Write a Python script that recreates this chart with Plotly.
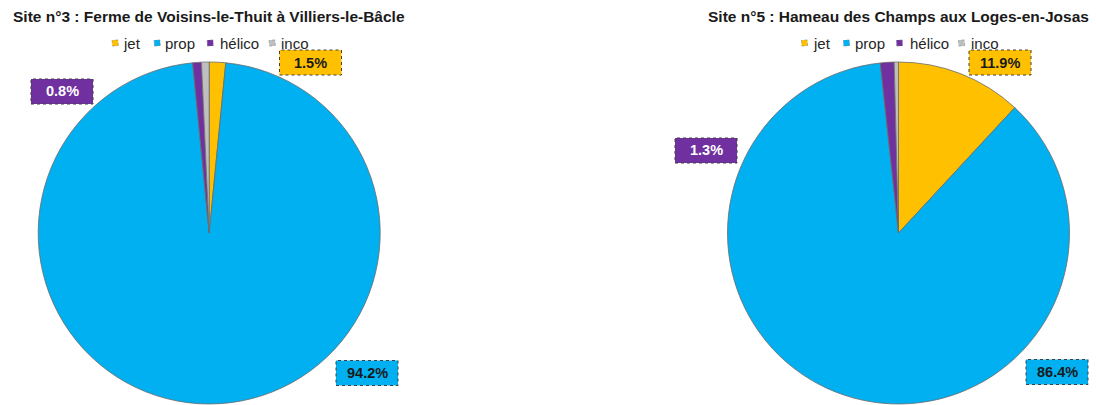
import plotly.graph_objects as go

# Aircraft categories and their colours
categories = ["jet", "prop", "hélico", "inco"]
colors = ["#FFC000", "#00B0F0", "#7030A0", "#BFBFBF"]

# Share of overflights per category (%)
site3_title = "Site n°3 : Ferme de Voisins-le-Thuit à Villiers-le-Bâcle"
site3_values = [1.5, 94.2, 0.8, 0.7]
site5_title = "Site n°5 : Hameau des Champs aux Loges-en-Josas"
site5_values = [11.9, 86.4, 1.3, 0.4]

W, H = 1096, 405
FONT = "Liberation Sans, Arial, sans-serif"


def px(x):
    return x / W


def py(y):
    return 1 - y / H


# Pie geometry in pixels: centre x, centre y, radius
pies = [
    dict(title=site3_title, values=site3_values, cx=209.2, cy=233, r=171,
         # label box centres (px) for jet, prop, hélico
         boxes={0: (310.5, 62.5), 1: (367, 373), 2: (62, 91.5)}),
    dict(title=site5_title, values=site5_values, cx=898.5, cy=233, r=171,
         boxes={0: (1000, 62.5), 1: (1057, 372), 2: (706, 150.5)}),
]

# Legend item offsets from the pie centre (marker left, text left)
legend_offsets = [(-97, -88), (-55, -46), (-2, 9), (60, 70)]

fig = go.Figure()
shapes, annotations = [], []

for p in pies:
    cx, cy, r = p["cx"], p["cy"], p["r"]
    fig.add_trace(go.Pie(
        labels=categories,
        values=p["values"],
        marker=dict(colors=colors, line=dict(color="#6b6b6b", width=0.8)),
        sort=False,
        direction="clockwise",
        rotation=0,
        textinfo="none",
        hoverinfo="label+value",
        showlegend=False,
        domain=dict(x=[px(cx - r), px(cx + r)], y=[py(cy + r), py(cy - r)]),
    ))

    # Title
    annotations.append(dict(
        x=px(cx), y=py(16), xref="paper", yref="paper",
        text=f"<b>{p['title']}</b>", showarrow=False,
        xanchor="center", yanchor="middle",
        font=dict(family=FONT, size=15.5, color="#1a1a1a"),
    ))

    # Legend row
    for i, cat in enumerate(categories):
        mx, tx = legend_offsets[i]
        shapes.append(dict(
            type="rect", xref="paper", yref="paper",
            x0=px(cx + mx), x1=px(cx + mx + 6), y0=py(46), y1=py(40),
            fillcolor=colors[i], line=dict(color="#8a8a8a", width=0.6, dash="dot"),
        ))
        annotations.append(dict(
            x=px(cx + tx), y=py(43), xref="paper", yref="paper",
            text=cat, showarrow=False, xanchor="left", yanchor="middle",
            font=dict(family=FONT, size=15, color="#262626"),
        ))

    # Value labels in dashed boxes
    for i, (bx, by) in p["boxes"].items():
        shapes.append(dict(
            type="rect", xref="paper", yref="paper",
            x0=px(bx - 31), x1=px(bx + 31), y0=py(by + 12.5), y1=py(by - 12.5),
            fillcolor=colors[i], line=dict(color="#404040", width=1, dash="dot"),
        ))
        txt_color = "#ffffff" if categories[i] == "hélico" else "#1a1a1a"
        annotations.append(dict(
            x=px(bx), y=py(by), xref="paper", yref="paper",
            text=f"<b>{p['values'][i]:.1f}%</b>", showarrow=False,
            xanchor="center", yanchor="middle",
            font=dict(family=FONT, size=14.5, color=txt_color),
        ))

fig.update_layout(
    width=W, height=H,
    margin=dict(l=0, r=0, t=0, b=0),
    paper_bgcolor="#ffffff",
    plot_bgcolor="#ffffff",
    shapes=shapes,
    annotations=annotations,
)

fig.write_html("out.html", config={"displayModeBar": False})
